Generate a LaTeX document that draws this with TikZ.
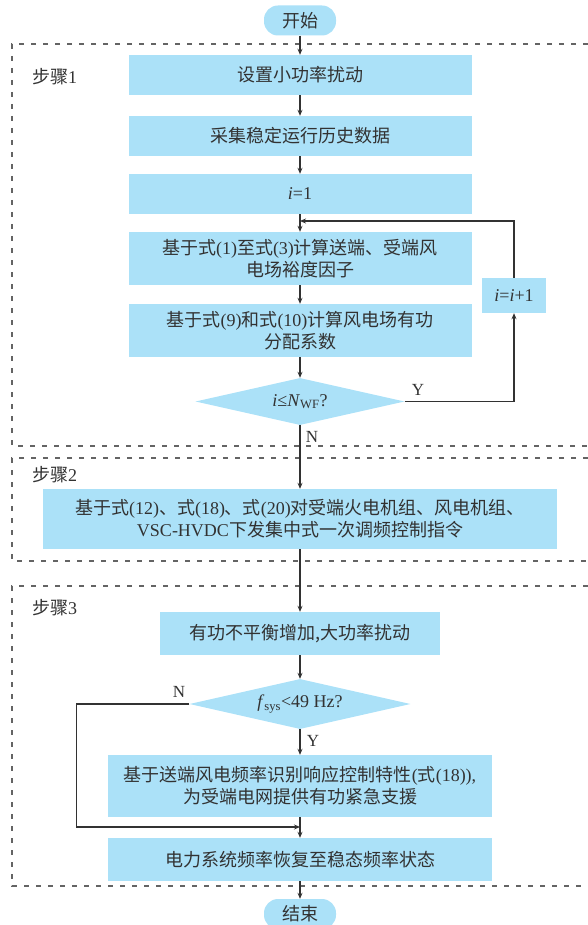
\documentclass[tikz,border=0pt]{standalone}
\usepackage{fontspec}
\setmainfont{Liberation Serif}
\newfontfamily\cjk{Noto Sans CJK SC}
\usetikzlibrary{shapes.geometric,arrows.meta}
\definecolor{boxblue}{RGB}{171,225,248}
\definecolor{txt}{RGB}{50,50,50}
\definecolor{ln}{RGB}{50,50,50}
\definecolor{frm}{RGB}{100,100,100}
\newcommand\zh[1]{{\cjk #1}}
\begin{document}
\begin{tikzpicture}[x=1pt,y=-1pt,
  every node/.style={text=txt, font=\fontsize{18}{22}\selectfont},
  proc/.style={fill=boxblue, draw=none, inner sep=0pt, align=center, minimum width=343pt, minimum height=40pt},
  term/.style={fill=boxblue, rounded corners=14pt, minimum width=72pt, minimum height=30pt, inner sep=0pt},
  dec/.style={diamond, fill=boxblue, aspect=4.4, inner sep=0pt},
  arr/.style={draw=ln, line width=1.1pt, -{Stealth[length=6pt,width=5pt]}},
  frame/.style={draw=frm, line width=1.1pt, dash pattern=on 5pt off 7pt},
  lbl/.style={font=\fontsize{18}{18}\selectfont, inner sep=0pt},
  yn/.style={font=\fontsize{17}{17}\selectfont, inner sep=0pt}
]
\useasboundingbox (0,0) rectangle (588,925);

% frames
\draw[frame] (588,44) -- (12,44) -- (12,446) -- (588,446);
\draw[frame] (588,458) -- (12,458) -- (12,561) -- (588,561);
\draw[frame] (588,586) -- (12,586) -- (12,886) -- (588,886);
\node[lbl, anchor=west] (s1) at (32,77) {\zh{步骤}1};
\node[lbl, anchor=west] (s2) at (32,475) {\zh{步骤}2};
\node[lbl, anchor=west] (s3) at (32,608) {\zh{步骤}3};

% nodes
\node[term] (start) at (300,20.5) {\zh{开始}};
\node[proc] (b1) at (300,75) {\zh{设置小功率扰动}};
\node[proc] (b2) at (300,136) {\zh{采集稳定运行历史数据}};
\node[proc] (b3) at (300,194) {\textit{i}=1};
\node[proc, minimum height=53pt] (b4) at (300,258.5) {\zh{基于式}(1)\zh{至式}(3)\zh{计算送端、受端风}\\\zh{电场裕度因子}};
\node[proc, minimum height=53pt] (b5) at (300,330.5) {\zh{基于式}(9)\zh{和式}(10)\zh{计算风电场有功}\\\zh{分配系数}};
\node[dec, minimum width=209pt, minimum height=47pt] (d1) at (300,401.5) {\textit{i}≤\textit{N}\textsubscript{WF}?};
\node[proc, minimum width=64pt, minimum height=35pt] (inc) at (514,295.5) {\textit{i}=\textit{i}+1};
\coordinate (join) at (300,221);

\node[proc, minimum width=514pt, minimum height=60pt] (s2box) at (300,519) {\zh{基于式}(12)\zh{、式}(18)\zh{、式}(20)\zh{对受端火电机组、风电机组、}\\VSC-HVDC\zh{下发集中式一次调频控制指令}};

\node[proc, minimum width=280pt, minimum height=43pt] (c1) at (300,633.5) {\zh{有功不平衡增加,大功率扰动}};
\node[dec, minimum width=221pt, minimum height=50pt] (d2) at (300,704) {\textit{f}\textsubscript{sys}<49 Hz?};
\node[proc, minimum width=384pt, minimum height=62pt] (c2) at (300,786) {\zh{基于送端风电频率识别响应控制特性}(\zh{式}(18)),\\\zh{为受端电网提供有功紧急支援}};
\node[proc, minimum width=384pt, minimum height=43pt] (c3) at (300,859.5) {\zh{电力系统频率恢复至稳态频率状态}};
\node[term] (end) at (300,914) {\zh{结束}};
\coordinate (merge) at (300,827);

% connectors
\draw[arr] (start) -- (b1);
\draw[arr] (b1) -- (b2);
\draw[arr] (b2) -- (b3);
\draw[arr] (b3) -- (b4);
\draw[arr] (b4) -- (b5);
\draw[arr] (b5) -- (d1);
\draw[arr] (d1.east) -| (inc.south);
\draw[arr] (inc.north) |- (join);
\draw[arr] (d1.south) -- (s2box.north);
\draw[arr] (s2box) -- (c1);
\draw[arr] (c1) -- (d2);
\draw[arr] (d2) -- (c2);
\draw[arr] (d2.west) -- ++(-113,0) |- (merge);
\draw[arr] (c2) -- (c3);
\draw[arr] (c3) -- (end);

\node[yn] (ly1) at (418,390) {Y};
\node[yn] (ln1) at (312,437) {N};
\node[yn] (ln2) at (179,692) {N};
\node[yn] (ly2) at (313,741) {Y};
\end{tikzpicture}
\end{document}
